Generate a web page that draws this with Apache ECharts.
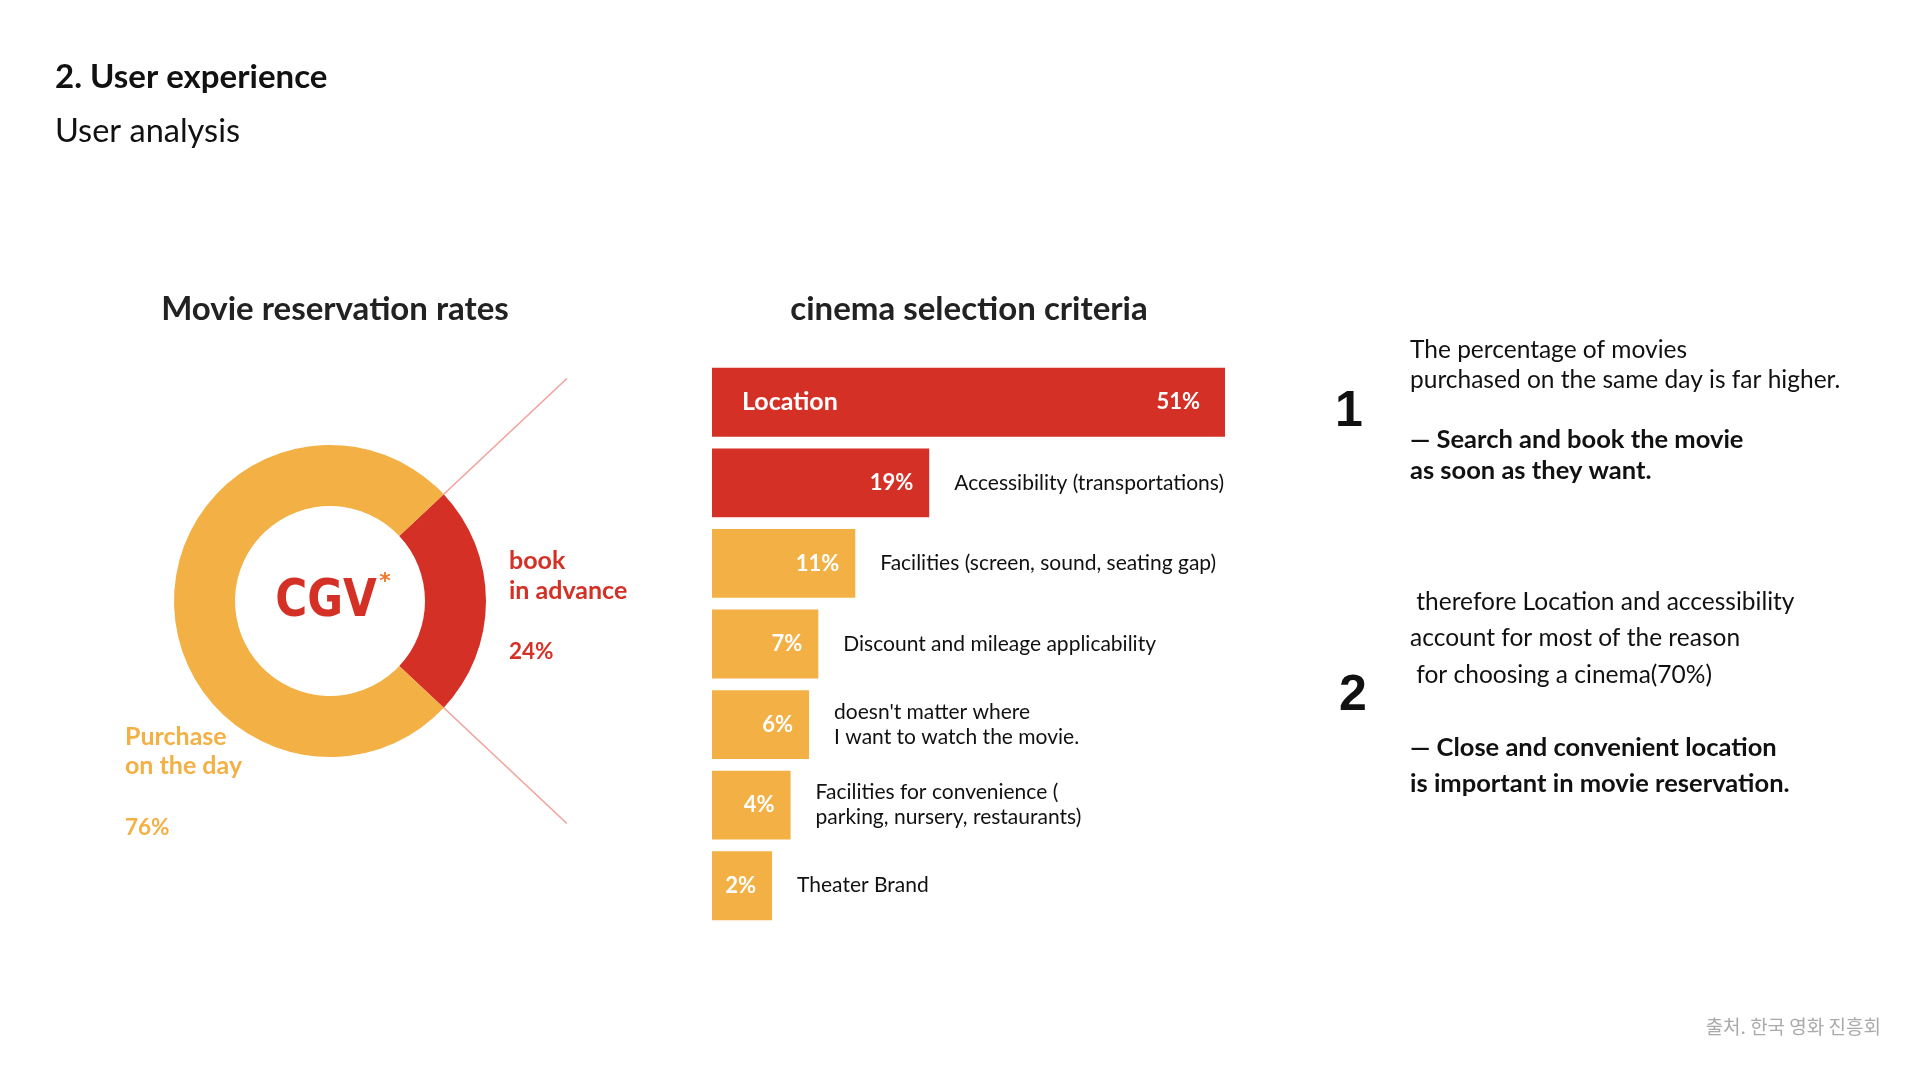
<!DOCTYPE html>
<html>
<head>
<meta charset="utf-8">
<script src="https://cdn.jsdelivr.net/npm/echarts@6/dist/echarts.min.js"></script>
<style>
  html, body { margin: 0; padding: 0; background: #ffffff; }
  #chart { width: 1920px; height: 1080px; }
</style>
</head>
<body>
<div id="chart"></div>
<script>
// ---------- data ----------
const pieNames = ['book\nin advance', 'Purchase\non the day'];
const pieValues = [24, 76];

const barCategories = [
  'Location',
  'Accessibility (transportations)',
  'Facilities (screen, sound, seating gap)',
  'Discount and mileage applicability',
  "doesn't matter where\nI want to watch the movie.",
  'Facilities for convenience (\nparking, nursery, restaurants)',
  'Theater Brand'
];
const barValues = [51, 19, 11, 7, 6, 4, 2];

const noteOne = ['The percentage of movies', 'purchased on the same day is far higher.'];
const noteOneBold = ['\u2014 Search and book the movie', 'as soon as they want.'];
const noteTwo = [' therefore Location and accessibility', 'account for most of the reason', ' for choosing a cinema(70%)'];
const noteTwoBold = ['\u2014 Close and convenient location', 'is important in movie reservation.'];

// ---------- style ----------
const RED = '#D53026';
const YELLOW = '#F3B045';
const DARK = '#222222';
const FONT = 'Lato';
const X_MIN = -4.5;

const chart = echarts.init(document.getElementById('chart'));

const pieTotal = pieValues.reduce((a, b) => a + b, 0);
const halfAngle = pieValues[0] / pieTotal * 360 / 2;
const cx = 330, cy = 601, rIn = 95, rOut = 156, rLine = 325;

function ray(sign) {
  const a = sign * halfAngle * Math.PI / 180;
  return {
    type: 'line',
    z: 1,
    shape: {
      x1: cx + rOut * Math.cos(a), y1: cy - rOut * Math.sin(a),
      x2: cx + rLine * Math.cos(a), y2: cy - rLine * Math.sin(a)
    },
    style: { stroke: '#F2A29C', lineWidth: 1.6 }
  };
}

function txt(text, x, y, font, fill, align) {
  return {
    type: 'text', z: 10,
    style: { text, x, y, font, fill, align: align || 'left', verticalAlign: 'middle' }
  };
}

const graphics = [
  txt('2. User experience', 55, 77, 'bold 33px ' + FONT, '#111'),
  txt('User analysis', 55, 132, '32.5px ' + FONT, '#111'),
  txt('Movie reservation rates', 335, 309, 'bold 33px ' + FONT, DARK, 'center'),
  txt('cinema selection criteria', 969, 309, 'bold 33px ' + FONT, DARK, 'center'),
  ray(1), ray(-1),
  // pie labels
  txt(pieNames[0].split('\n')[0], 509, 561, 'bold 25px ' + FONT, RED),
  txt(pieNames[0].split('\n')[1], 509, 591, 'bold 25px ' + FONT, RED),
  txt(pieValues[0] + '%', 509, 652, 'bold 22.5px ' + FONT, RED),
  txt(pieNames[1].split('\n')[0], 125, 737, 'bold 25px ' + FONT, YELLOW),
  txt(pieNames[1].split('\n')[1], 125, 766, 'bold 25px ' + FONT, YELLOW),
  txt(pieValues[1] + '%', 125, 828, 'bold 22.5px ' + FONT, YELLOW),
  // logo
  {
    type: 'text', x: 326, y: 602, scaleX: 0.84, z: 10,
    style: { text: 'CGV', x: 0, y: 0, font: 'bold 52px "DejaVu Sans"', fill: RED, align: 'center', verticalAlign: 'middle' }
  },
  txt('*', 385, 582, 'bold 22px "DejaVu Sans"', '#EE7A2A', 'center'),
  // numbers
  txt('1', 1349, 412, 'bold 50px "Liberation Sans"', '#111', 'center'),
  txt('2', 1353, 696, 'bold 50px "Liberation Sans"', '#111', 'center'),
  // source
  txt('출처. 한국 영화 진흥회', 1881, 1027, '19px "Noto Sans CJK KR"', '#AAAAAA', 'right')
];

noteOne.forEach((t, i) => graphics.push(txt(t, 1410, 350 + i * 30.5, '24.5px ' + FONT, '#111')));
noteOneBold.forEach((t, i) => graphics.push(txt(t, 1410, 440 + i * 30.5, 'bold 25.5px ' + FONT, '#111')));
noteTwo.forEach((t, i) => graphics.push(txt(t, 1410, 602 + i * 36.5, '24.5px ' + FONT, '#111')));
noteTwoBold.forEach((t, i) => graphics.push(txt(t, 1410, 748 + i * 36, 'bold 25.5px ' + FONT, '#111')));

const option = {
  backgroundColor: '#ffffff',
  animation: false,
  grid: { left: 712, right: 695, top: 362, bottom: 154, containLabel: false },
  xAxis: { type: 'value', min: X_MIN, max: 51, show: false },
  yAxis: { type: 'category', data: barCategories, inverse: true, show: false },
  graphic: graphics,
  series: [
    {
      type: 'pie',
      silent: true,
      center: [cx, cy],
      radius: [rIn, rOut],
      startAngle: halfAngle,
      clockwise: true,
      label: { show: false },
      labelLine: { show: false },
      itemStyle: { borderWidth: 0 },
      emphasis: { disabled: true },
      data: pieValues.map((v, i) => ({ name: pieNames[i], value: v, itemStyle: { color: i === 0 ? RED : YELLOW } }))
    },
    {
      type: 'custom',
      silent: true,
      coordinateSystem: 'cartesian2d',
      encode: { x: 0, y: 1 },
      data: barValues.map((v, i) => [v, i]),
      renderItem: function (params, api) {
        const v = api.value(0);
        const i = api.value(1);
        const s = api.coord([X_MIN, i]);
        const e = api.coord([v, i]);
        const h = api.size([0, 1])[1] * 0.855;
        const color = i < 2 ? RED : YELLOW;
        const children = [
          { type: 'rect', shape: { x: s[0], y: s[1] - h / 2, width: e[0] - s[0], height: h }, style: { fill: color } },
          { type: 'text', style: { text: v + '%', x: e[0] - (i === 0 ? 25 : 16), y: e[1], align: 'right', verticalAlign: 'middle', fill: '#fff', font: 'bold 22px ' + FONT } }
        ];
        if (i === 0) {
          children.push({ type: 'text', style: { text: barCategories[i], x: s[0] + 30, y: s[1], align: 'left', verticalAlign: 'middle', fill: '#fff', font: 'bold 25px ' + FONT } });
        } else {
          children.push({ type: 'text', style: { text: barCategories[i], x: e[0] + 25, y: e[1], align: 'left', verticalAlign: 'middle', fill: '#111', font: '21px ' + FONT, lineHeight: 25 } });
        }
        return { type: 'group', children };
      }
    }
  ]
};

chart.setOption(option);
</script>
</body>
</html>
